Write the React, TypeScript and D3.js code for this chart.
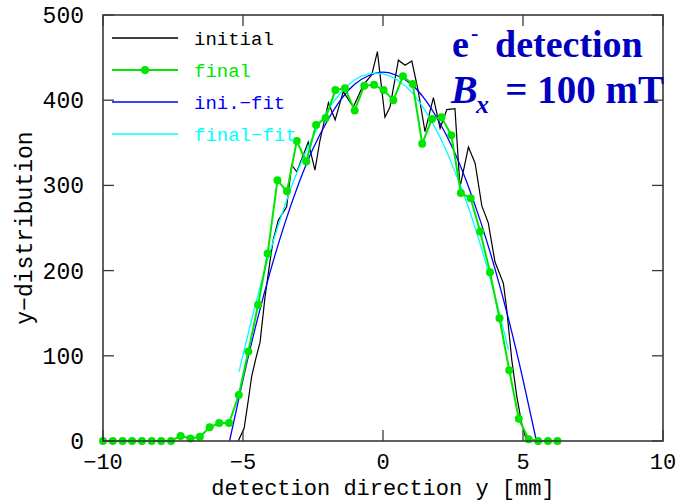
import React from "react";
import * as d3 from "d3";

// ---- data ----
const xTicks = [-10, -5, 0, 5, 10];
const yTicks = [0, 100, 200, 300, 400, 500];
const xTickLabels = ["\u221210", "\u22125", "0", "5", "10"];

// initial distribution (black)
const initialX = [-5.17, -4.96, -4.81, -4.69, -4.54, -4.39, -4.21, -4.04, -3.92, -3.74, -3.44, -3.26, -3.08, -2.89, -2.67, -2.43, -2.25, -1.95, -1.71, -1.42, -1.06, -0.70, -0.40, -0.20, 0.07, 0.25, 0.55, 0.79, 1.03, 1.25, 1.50, 1.80, 2.04, 2.28, 2.57, 2.75, 3.05, 3.29, 3.53, 3.76, 4.00, 4.30, 4.42, 4.60, 4.78, 4.95, 5.13];
const initialY = [0, 15, 48, 76, 97, 116, 170, 210, 236, 259, 275, 324, 316, 332, 351, 318, 353, 397, 377, 410, 392, 418, 430, 457, 380, 392, 447, 441, 446, 412, 363, 403, 367, 389, 390, 298, 345, 326, 276, 256, 210, 185, 154, 95, 52, 21, 0];

// final distribution (green, with markers)
const finalX = [-10.0, -9.65, -9.30, -8.96, -8.61, -8.26, -7.92, -7.57, -7.23, -6.88, -6.54, -6.19, -5.85, -5.50, -5.15, -4.81, -4.46, -4.12, -3.77, -3.43, -3.08, -2.74, -2.39, -2.05, -1.70, -1.36, -1.01, -0.67, -0.32, 0.02, 0.37, 0.71, 1.06, 1.40, 1.75, 2.09, 2.44, 2.78, 3.13, 3.47, 3.82, 4.16, 4.51, 4.85, 5.20, 5.54, 5.89, 6.23];
const finalY = [0, 0, 0, 0, 0, 0, 0, 0, 6, 3, 5, 16, 21, 21, 54, 105, 160, 220, 306, 293, 352, 328, 371, 379, 412, 414, 388, 417, 418, 412, 400, 428, 419, 349, 378, 380, 359, 291, 285, 246, 198, 144, 83, 26, 2, 0, 0, 0];

// fit of the initial distribution (blue)
const iniFitX = [-5.48, -5, -4.5, -4, -3.5, -3, -2.5, -2, -1.5, -1, -0.5, 0, 0.5, 1, 1.5, 2, 2.5, 3, 3.5, 4, 4.5, 5, 5.48];
const iniFitY = [0, 72, 141, 202, 256, 303, 343, 375, 401, 419, 429, 433, 429, 419, 401, 375, 343, 303, 256, 202, 141, 72, 0];

// fit of the final distribution (cyan)
const finalFitX = [-5.14, -5, -4.5, -4, -3.5, -3, -2.5, -2, -1.5, -1, -0.5, 0, 0.5, 1, 1.5, 2, 2.5, 3, 3.5, 4, 4.48];
const finalFitY = [81, 101, 167, 226, 277, 321, 357, 387, 409, 424, 431, 431, 424, 410, 388, 359, 322, 279, 228, 170, 107];

const legendItems = [
  { label: "initial", color: "#000000", marker: false },
  { label: "final", color: "#00e600", marker: true },
  { label: "ini.\u2212fit", color: "#0000ff", marker: false },
  { label: "final\u2212fit", color: "#00ffff", marker: false },
];

const W = 686;
const H = 502;
const mono = "'Liberation Mono', 'DejaVu Sans Mono', monospace";
const serif = "'Liberation Serif', 'Times New Roman', serif";

export default function App() {
  const x = d3.scaleLinear().domain([-10, 10]).range([103, 663]);
  const y = d3.scaleLinear().domain([0, 500]).range([441, 15]);

  const zip = (xs: number[], ys: number[]) => xs.map((v, i) => [v, ys[i]] as [number, number]);
  const straight = d3.line<[number, number]>().x((d) => x(d[0])).y((d) => y(d[1]));
  const smooth = d3
    .line<[number, number]>()
    .x((d) => x(d[0]))
    .y((d) => y(d[1]))
    .curve(d3.curveNatural);

  const finalPts = zip(finalX, finalY);
  const [x0, x1] = x.range();
  const [yb, yt] = y.range();
  const frame = "#3a3a3a";

  return (
    <svg
      width={W}
      height={H}
      style={{ position: "fixed", left: 0, top: 0, background: "#fff" }}
    >
      <rect x={0} y={0} width={W} height={H} fill="#fff" />

      {/* curves */}
      <path d={straight(zip(initialX, initialY)) ?? ""} fill="none" stroke="#000" strokeWidth={1.2} />
      <path d={smooth(zip(iniFitX, iniFitY)) ?? ""} fill="none" stroke="#0000ff" strokeWidth={1.3} />
      <path d={smooth(zip(finalFitX, finalFitY)) ?? ""} fill="none" stroke="#00ffff" strokeWidth={1.3} />
      <path d={straight(finalPts) ?? ""} fill="none" stroke="#00e600" strokeWidth={2} />
      {finalPts.map((d, i) => (
        <circle key={i} cx={x(d[0])} cy={y(d[1])} r={4} fill="#00e600" />
      ))}

      {/* frame */}
      <rect x={x0} y={yt} width={x1 - x0} height={yb - yt} fill="none" stroke={frame} strokeWidth={1.6} />

      {/* x ticks (bottom and top, inward) */}
      {xTicks.map((t, i) => (
        <g key={"xt" + t}>
          <line x1={x(t)} x2={x(t)} y1={yb} y2={yb - 11} stroke={frame} strokeWidth={1.3} />
          <line x1={x(t)} x2={x(t)} y1={yt} y2={yt + 11} stroke={frame} strokeWidth={1.3} />
          <text
            x={x(t)}
            y={469}
            textAnchor="middle"
            fontFamily={mono}
            fontSize={22}
            fill="#000"
          >
            {xTickLabels[i]}
          </text>
        </g>
      ))}

      {/* y ticks (left and right, inward) */}
      {yTicks.map((t) => (
        <g key={"yt" + t}>
          <line x1={x0} x2={x0 + 11} y1={y(t)} y2={y(t)} stroke={frame} strokeWidth={1.3} />
          <line x1={x1} x2={x1 - 11} y1={y(t)} y2={y(t)} stroke={frame} strokeWidth={1.3} />
          <text
            x={84}
            y={y(t) + 8}
            textAnchor="end"
            fontFamily={mono}
            fontSize={23}
            fill="#000"
          >
            {t}
          </text>
        </g>
      ))}

      {/* axis titles */}
      <text x={383} y={495} textAnchor="middle" fontFamily={mono} fontSize={22} fill="#000">
        detection direction y [mm]
      </text>
      <text
        transform="translate(32,228) rotate(-90)"
        textAnchor="middle"
        fontFamily={mono}
        fontSize={23}
        fill="#000"
      >
        y{"\u2212"}distribution
      </text>

      {/* legend */}
      {legendItems.map((it, i) => {
        const ly = 38 + i * 32;
        return (
          <g key={it.label}>
            <line x1={112} x2={178} y1={ly} y2={ly} stroke={it.color} strokeWidth={it.marker ? 2 : 1.3} />
            {it.marker && <circle cx={145} cy={ly} r={4} fill={it.color} />}
            <text x={194} y={ly + 7} fontFamily={mono} fontSize={19} fill={it.color}>
              {it.label}
            </text>
          </g>
        );
      })}

      {/* annotation */}
      <g fill="#0000c0" fontFamily={serif} fontWeight="bold">
        <text x={452} y={57} fontSize={38}>e</text>
        <text x={471} y={40} fontSize={22}>-</text>
        <text x={495} y={57} fontSize={38}>detection</text>
        <text x={451} y={103} fontSize={40} fontStyle="italic">B</text>
        <text x={476} y={113} fontSize={26} fontStyle="italic">x</text>
        <text x={664} y={103} fontSize={39} textAnchor="end">= 100 mT</text>
      </g>
    </svg>
  );
}
